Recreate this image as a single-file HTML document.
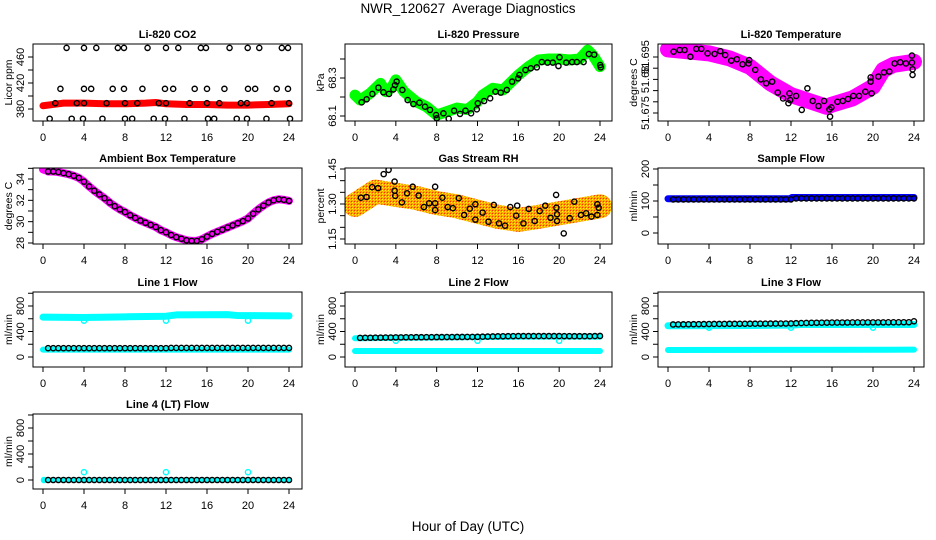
<!DOCTYPE html>
<html><head><meta charset="utf-8"><style>
html,body{margin:0;padding:0;background:#fff;}
svg{display:block;font-family:"Liberation Sans",Arial,sans-serif;}
</style></head><body>
<svg id="chart" width="936" height="540" viewBox="0 0 936 540" xmlns="http://www.w3.org/2000/svg">
<defs>
<pattern id="rhpat" width="3" height="3" patternUnits="userSpaceOnUse">
<rect width="3" height="3" fill="#ffa000"/><rect width="1" height="1" fill="#ff3000"/><rect x="1" y="1" width="1" height="1" fill="#ffff00"/><rect x="2" y="2" width="1" height="1" fill="#ffd000"/>
</pattern>
</defs>
<text x="468" y="13" text-anchor="middle" font-size="13.5" style="white-space:pre" xml:space="preserve">NWR_120627  Average Diagnostics</text>
<text x="468" y="531" text-anchor="middle" font-size="13.5">Hour of Day (UTC)</text>
</svg>
<script>
const XTICKS = [0,4,8,12,16,20,24];
const HRS = [0.5,1,1.5,2,2.5,3,3.5,4,4.5,5,5.5,6,6.5,7,7.5,8,8.5,9,9.5,10,10.5,11,11.5,12,12.5,13,13.5,14,14.5,15,15.5,16,16.5,17,17.5,18,18.5,19,19.5,20,20.5,21,21.5,22,22.5,23,23.5,24];

// CO2
const co2Band = [[0,385],[1,387],[2,389],[4,389],[6,388],[8,388],[10,389],[11,390],[12,388],[14,387],[16,387],[18,386],[20,386],[22,387],[24,388]];
const co2Hours474 = [2.3,4.0,5.2,7.3,7.9,10.2,12.0,13.2,15.4,15.9,18.2,19.97,21.1,23.3,23.9];
const co2Hours411 = [1.7,4.0,4.7,6.8,7.9,9.7,11.9,12.7,14.8,16.0,17.7,20.0,20.7,22.8,23.9];
const co2Hours389 = [1.2,3.3,4.0,6.2,8.0,9.2,11.3,12.0,14.3,16.0,17.2,19.3,19.9,22.3,24.0];
const co2Hours365 = [0.65,2.8,3.9,5.8,8.0,8.7,10.8,11.9,13.8,16.1,16.7,18.9,19.9,21.8,24.1];
const co2Levels = [474,411,389,365];

// Pressure
const presBand = [[0,68.21],[0.5,68.184],[1.5,68.22],[2.5,68.272],[3,68.228],[3.6,68.25],[4,68.29],[4.8,68.228],[6,68.175],[7,68.149],[8,68.105],[9,68.123],[10,68.142],[11,68.134],[12,68.175],[12.5,68.21],[13.5,68.246],[14.5,68.237],[16,68.316],[17,68.36],[18,68.395],[19,68.40],[20,68.40],[21,68.395],[22,68.40],[22.8,68.447],[23.3,68.42],[24,68.36]];
const presPts = [[0.65,68.172],[1.14,68.188],[1.70,68.216],[2.29,68.249],[2.78,68.225],[3.33,68.216],[3.76,68.240],[3.92,68.263],[4.08,68.281],[4.64,68.237],[5.16,68.184],[5.72,68.163],[6.31,68.170],[6.86,68.149],[7.35,68.132],[7.94,68.105],[8.01,68.088],[8.66,68.114],[9.18,68.086],[9.71,68.128],[10.29,68.111],[10.82,68.128],[11.37,68.114],[11.93,68.135],[12.03,68.167],[12.65,68.179],[13.24,68.193],[13.76,68.228],[14.28,68.223],[14.87,68.237],[15.39,68.281],[15.98,68.298],[16.11,68.316],[16.70,68.342],[17.22,68.351],[17.81,68.356],[18.30,68.384],[18.86,68.381],[19.38,68.381],[19.93,68.363],[20.03,68.409],[20.69,68.381],[21.27,68.384],[21.73,68.384],[22.39,68.384],[22.91,68.426],[23.43,68.423],[24.02,68.368],[24.08,68.356]];

// Li-820 temperature
const tempBand = [[0,51.6977],[2,51.697],[4,51.6963],[6,51.6945],[8,51.6915],[10,51.6856],[12,51.6814],[14,51.679],[15.5,51.6772],[16,51.678],[18,51.6802],[20,51.6844],[21,51.6904],[22,51.6922],[24,51.6933]];
const tempPts = [[0.55,51.6969],[1.14,51.6975],[1.62,51.6975],[2.18,51.6951],[2.76,51.6979],[3.25,51.6979],[3.86,51.6963],[4.55,51.6961],[5.10,51.6971],[5.58,51.6957],[6.17,51.6937],[6.72,51.6942],[7.27,51.6924],[7.86,51.6927],[7.92,51.6939],[8.51,51.6904],[9.06,51.6870],[9.58,51.6856],[10.16,51.6862],[10.71,51.6823],[11.23,51.6802],[11.75,51.6785],[11.85,51.6820],[11.92,51.6796],[12.5,51.6811],[13.05,51.6761],[13.6,51.6838],[14.12,51.6793],[14.68,51.6775],[15.23,51.6793],[15.75,51.6763],[15.81,51.6737],[15.94,51.6770],[16.53,51.6790],[17.05,51.6793],[17.56,51.6800],[18.08,51.6811],[18.64,51.6811],[19.25,51.6826],[19.77,51.6877],[19.77,51.6862],[19.87,51.6820],[20.52,51.6880],[21.07,51.6895],[21.59,51.6898],[22.11,51.6927],[22.66,51.6931],[23.21,51.6927],[23.8,51.6930],[23.8,51.6955],[23.86,51.6906],[23.86,51.6886]];

// Ambient
const ambVals = [34.7,34.7,34.65,34.55,34.45,34.3,34.1,33.75,33.3,32.9,32.55,32.2,31.8,31.45,31.15,30.9,30.6,30.35,30.1,29.9,29.7,29.5,29.2,29.0,28.75,28.55,28.4,28.25,28.2,28.2,28.35,28.6,28.85,29.05,29.25,29.45,29.65,29.85,30.05,30.3,30.75,31.15,31.5,31.8,32.0,32.1,32.05,31.95];
const ambStart = [[0,34.9],[0.5,34.75]];

// RH
const rhBand = [[0,1.296],[2,1.353],[4,1.339],[6,1.326],[8,1.304],[10,1.29],[12,1.267],[14,1.245],[16,1.232],[18,1.245],[20,1.26],[22,1.275],[24,1.29]];
const rhPts = [[0.58,1.327],[1.13,1.330],[1.68,1.372],[2.26,1.368],[2.81,1.428],[3.29,1.446],[3.88,1.396],[3.88,1.357],[3.94,1.335],[4.59,1.307],[5.10,1.346],[5.65,1.374],[6.23,1.336],[6.75,1.287],[7.27,1.303],[7.85,1.374],[7.85,1.303],[7.85,1.274],[8.56,1.327],[9.08,1.287],[9.59,1.282],[10.17,1.325],[10.69,1.253],[11.24,1.280],[11.79,1.299],[11.79,1.233],[12.5,1.263],[13.08,1.224],[13.6,1.296],[14.11,1.217],[14.7,1.207],[15.21,1.287],[15.89,1.293],[15.79,1.250],[16.5,1.217],[17.02,1.279],[17.6,1.227],[18.09,1.270],[18.64,1.293],[19.15,1.241],[19.7,1.339],[19.73,1.284],[19.79,1.256],[19.79,1.227],[20.45,1.174],[21.03,1.239],[21.48,1.310],[22.13,1.253],[22.64,1.260],[23.16,1.246],[23.74,1.299],[23.74,1.253],[23.87,1.284]];

// Sample flow
const sampleBand = [[0,107],[11.9,107],[12.1,111],[24,111]];
const sampleVals = [105,105,105,105,105,105,105,105,105,105,105,105,105,105,105,105,105,105,105,105,105,105,105,105,108,108,108,108,108,108,108,108,108,108,108,108,108,108,108,108,108,108,108,108,108,108,108,108];

// Line 1
const l1High = [[0,625],[4,620],[8,630],[12,640],[13,660],[18,665],[19,650],[24,645]];
const l1Low = [[0,115],[24,115]];
const l1Out = [[4,570],[12,570],[20,570]];
const l1Vals = [138,138,138,138,138,138,138,138,138,138,138,138,138,138,138,138,138,138,138,138,138,138,138,138,142,142,142,142,142,142,142,142,142,142,142,142,142,142,142,142,142,142,142,142,142,142,142,142];

// Line 2
const l2High = [[0,295],[8,305],[16,320],[24,320]];
const l2Low = [[0,95],[24,95]];
const l2Out = [[4,255],[12,255],[20,255]];
const l2Vals = [300,301,302,303,304,305,306,308,308,309,309,310,310,311,311,312,312,313,313,314,314,315,315,316,318,320,322,324,325,326,327,328,328,328,328,328,328,328,328,328,327,327,326,326,326,326,328,330];

// Line 3
const l3High = [[0,490],[8,495],[12,500],[13,510],[24,510]];
const l3Low = [[0,110],[24,115]];
const l3Out = [[4,460],[12,460],[20,460]];
const l3Vals = [510,511,512,513,514,515,516,517,518,518,519,520,520,521,521,522,522,523,523,524,524,525,525,526,530,532,534,536,537,538,539,540,540,541,541,542,542,542,543,543,543,543,544,544,544,545,545,560];

// Line 4
const l4Band = [[0,0],[24,0]];
const l4Out = [[0.1,0],[4,120],[12,120],[20,120]];
const l4Vals = [0,0,0,0,0,0,0,0,0,0,0,0,0,0,0,0,0,0,0,0,0,0,0,0,0,0,0,0,0,0,0,0,0,0,0,0,0,0,0,0,0,0,0,0,0,0,0,0];

// Axis tick definitions
const co2Ticks = [380,400,420,440,460]; const co2Labels = ["380","","420","","460"];
const presTicks = [68.1,68.2,68.3,68.4]; const presLabels = ["68.1","","68.3",""];
const tempTicks = [51.675,51.679,51.683,51.687,51.691,51.695]; const tempLabels = ["51.675","","","51.68","","51.695"];
const ambTicks = [28,29,30,31,32,33,34,35]; const ambLabels = ["28","","30","","32","","34",""];
const rhTicks = [1.15,1.2,1.25,1.3,1.35,1.4,1.45]; const rhLabels = ["1.15","","","1.30","","","1.45"];
const sampleTicks = [0,50,100,150,200]; const sampleLabels = ["0","","100","","200"];
const flowTicks = [0,200,400,600,800,1000]; const flowLabels = ["0","","400","","800",""];

const NS = "http://www.w3.org/2000/svg";
const svg = document.getElementById('chart');
const COLS = [{l:33,r:302,x0:43,x24:289},{l:345,r:612,x0:355,x24:600},{l:658,r:924,x0:668,x24:914}];
const ROWS = [{t:44,b:121},{t:168,b:244},{t:292,b:367},{t:414,b:489}];

function mk(tag, parent){ const e=document.createElementNS(NS,tag); parent.appendChild(e); return e; }

function panel(col,row,title,ylab,v1,p1,v2,p2,ticks,labels,name){
  const C=COLS[col], R=ROWS[row];
  const g=mk('g',svg);
  
  
  const sx=h=>C.x0+(C.x24-C.x0)*h/24;
  const sy=v=>p1+(p2-p1)*(v-v1)/(v2-v1);
  const plot=mk('g',g);
  
  
  const clip=mk('clipPath',g); clip.setAttribute('id','clip-'+name);
  const cr=mk('rect',clip); cr.setAttribute('x',C.l); cr.setAttribute('y',R.t); cr.setAttribute('width',C.r-C.l); cr.setAttribute('height',R.b-R.t);
  const box=mk('rect',g);
  
  
  box.setAttribute('x',C.l); box.setAttribute('y',R.t); box.setAttribute('width',C.r-C.l); box.setAttribute('height',R.b-R.t);
  box.setAttribute('fill','none'); box.setAttribute('stroke','#000'); box.setAttribute('stroke-width','1');
  const t=mk('text',g);
  
  
  t.setAttribute('x',(C.l+C.r)/2); t.setAttribute('y',R.t-6); t.setAttribute('text-anchor','middle');
  t.setAttribute('font-size','11'); t.setAttribute('font-weight','bold'); t.textContent=title;
  const xa=mk('g',g);
  
  
  XTICKS.forEach(h=>{
    const l=mk('line',xa); l.setAttribute('x1',sx(h)); l.setAttribute('x2',sx(h)); l.setAttribute('y1',R.b); l.setAttribute('y2',R.b+5); l.setAttribute('stroke','#000');
    const tx=mk('text',xa);
    
    
    tx.setAttribute('x',sx(h)); tx.setAttribute('y',R.b+20); tx.setAttribute('text-anchor','middle'); tx.setAttribute('font-size','11'); tx.textContent=h;
  });
  const ya=mk('g',g);
  
  
  ticks.forEach((v,i)=>{
    const y=sy(v);
    const l=mk('line',ya); l.setAttribute('x1',C.l-5); l.setAttribute('x2',C.l); l.setAttribute('y1',y); l.setAttribute('y2',y); l.setAttribute('stroke','#000');
    if(labels[i]){
      const tx=mk('text',ya);
      
      
      tx.setAttribute('transform','translate('+(C.l-9)+','+y+') rotate(-90)'); tx.setAttribute('text-anchor','middle'); tx.setAttribute('font-size','11'); tx.textContent=labels[i];
    }
  });
  const yl=mk('text',g);
  
  
  yl.setAttribute('transform','translate('+(C.l-21)+','+((R.t+R.b)/2)+') rotate(-90)'); yl.setAttribute('text-anchor','middle'); yl.setAttribute('font-size','10.5'); yl.textContent=ylab;
  plot.setAttribute('clip-path','url(#clip-'+name+')');
  return {sx,sy,plot};
}

function band(P,pairs,color,w,name){
  const pl=mk('polyline',P.plot);
  
  
  pl.setAttribute('points',pairs.map(p=>P.sx(p[0])+','+P.sy(p[1])).join(' '));
  pl.setAttribute('fill','none'); pl.setAttribute('stroke',color); pl.setAttribute('stroke-width',w);
  pl.setAttribute('stroke-linecap','round'); pl.setAttribute('stroke-linejoin','round');
}
function pts(P,pairs,color,name){
  pairs.forEach(p=>{
    const c=mk('circle',P.plot);
    
    
    c.setAttribute('cx',P.sx(p[0])); c.setAttribute('cy',P.sy(p[1])); c.setAttribute('r','2.6');
    c.setAttribute('fill','none'); c.setAttribute('stroke',color); c.setAttribute('stroke-width','1.4');
  });
}
const zipH = vals => vals.map((v,i)=>[HRS[i],v]);

let P=panel(0,0,'Li-820 CO2','Licor ppm',380,109,460,57,co2Ticks,co2Labels,'co2');
band(P,co2Band,'#ff0000',7,'co2-band');
[co2Hours474,co2Hours411,co2Hours389,co2Hours365].forEach((hs,k)=>pts(P,hs.map(h=>[h,co2Levels[k]]),'#000','co2-point'));

P=panel(1,0,'Li-820 Pressure','kPa',68.1,116,68.3,78,presTicks,presLabels,'pressure');
band(P,presBand,'#00ff00',11,'pressure-band');
pts(P,presPts,'#000','pressure-point');

P=panel(2,0,'Li-820 Temperature','degrees C',51.675,113,51.695,57,tempTicks,tempLabels,'temperature');
band(P,tempBand,'#ff00ff',16,'temperature-band');
pts(P,tempPts,'#000','temperature-point');

P=panel(0,1,'Ambient Box Temperature','degrees C',28,243,34,179,ambTicks,ambLabels,'ambient');
band(P,ambStart.concat(zipH(ambVals)),'#ff00ff',8,'ambient-band');
pts(P,zipH(ambVals),'#000','ambient-point');

P=panel(1,1,'Gas Stream RH','percent',1.15,239,1.45,169,rhTicks,rhLabels,'rh');
band(P,rhBand,'url(#rhpat)',24,'rh-band');
pts(P,rhPts,'#000','rh-point');

P=panel(2,1,'Sample Flow','ml/min',0,233,200,169,sampleTicks,sampleLabels,'sample-flow');
band(P,sampleBand,'#0000ff',7,'sample-flow-band');
pts(P,zipH(sampleVals),'#000','sample-flow-point');

P=panel(0,2,'Line 1 Flow','ml/min',0,357,800,306,flowTicks,flowLabels,'line1');
band(P,l1High,'#00ffff',7,'line1-high-band');
band(P,l1Low,'#00ffff',6,'line1-low-band');
pts(P,l1Out,'#00ffff','line1-outlier');
pts(P,zipH(l1Vals),'#000','line1-point');

P=panel(1,2,'Line 2 Flow','ml/min',0,357,800,306,flowTicks,flowLabels,'line2');
band(P,l2High,'#00ffff',6,'line2-high-band');
band(P,l2Low,'#00ffff',6,'line2-low-band');
pts(P,l2Out,'#00ffff','line2-outlier');
pts(P,zipH(l2Vals),'#000','line2-point');

P=panel(2,2,'Line 3 Flow','ml/min',0,357,800,306,flowTicks,flowLabels,'line3');
band(P,l3High,'#00ffff',7,'line3-high-band');
band(P,l3Low,'#00ffff',6,'line3-low-band');
pts(P,l3Out,'#00ffff','line3-outlier');
pts(P,zipH(l3Vals),'#000','line3-point');

P=panel(0,3,'Line 4 (LT) Flow','ml/min',0,480,800,428,flowTicks,flowLabels,'line4');
band(P,l4Band,'#00ffff',4,'line4-band');
pts(P,l4Out,'#00ffff','line4-outlier');
pts(P,zipH(l4Vals),'#000','line4-point');
</script>
</body></html>
